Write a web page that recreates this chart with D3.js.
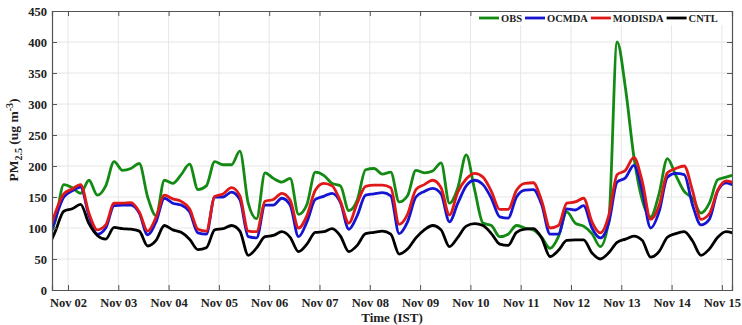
<!DOCTYPE html>
<html>
<head>
<meta charset="utf-8">
<script src="https://cdn.jsdelivr.net/npm/d3@7"></script>
<style>
body { margin: 0; background: #fff; }
svg text { font-family: "Liberation Serif", "Times New Roman", serif; font-weight: bold; fill: #222; }
</style>
</head>
<body>
<svg width="742" height="325"></svg>
<script>
// 4-hourly PM2.5 values (ug m-3), starting Nov 01 14:00 IST
const obs = [
  80, 112, 170, 165, 156, 177, 153, 168, 207, 193, 196, 204,
  150, 120, 177, 172, 186, 203, 162, 168, 207, 202, 202, 224,
  140, 115, 189, 180, 174, 180, 122, 138, 190, 185, 172, 168,
  128, 145, 194, 196, 187, 190, 142, 152, 193, 189, 192, 205,
  140, 165, 218, 162, 108, 104, 86, 90, 104, 100, 97, 85,
  67, 86, 126, 108, 103, 91, 70, 112, 400, 325, 215, 145,
  118, 155, 212, 185, 159, 148, 124, 140, 178, 182, 186
];
const ocmda = [
  68, 115, 150, 160, 166, 120, 90, 100, 136, 137, 137, 124,
  89, 110, 148, 140, 137, 126, 92, 90, 150, 150, 158, 146,
  86, 84, 137, 137, 148, 137, 86, 110, 146, 151, 156, 141,
  98, 120, 153, 155, 157, 152, 91, 110, 150, 159, 164, 155,
  110, 140, 168, 177, 170, 148, 118, 116, 150, 161, 162, 138,
  90, 90, 131, 129, 136, 100, 84, 108, 174, 181, 201, 160,
  100, 126, 182, 188, 186, 137, 105, 114, 160, 173, 168
];
const modisda = [
  80, 125, 155, 163, 170, 124, 97, 105, 140, 140, 141, 126,
  95, 117, 153, 147, 143, 131, 98, 95, 151, 155, 165, 152,
  95, 94, 143, 146, 156, 145, 100, 120, 161, 172, 168, 143,
  108, 140, 167, 169, 169, 165, 106, 122, 162, 170, 177, 165,
  121, 158, 179, 188, 182, 159, 130, 130, 161, 172, 173, 144,
  100, 104, 140, 142, 148, 110, 92, 120, 186, 193, 214, 175,
  114, 136, 189, 196, 200, 160, 114, 123, 161, 176, 172
];
const cntl = [
  65, 95, 127, 131, 138, 107, 88, 82, 101, 99, 98, 95,
  71, 80, 104, 97, 93, 82, 65, 68, 97, 99, 104, 95,
  56, 68, 86, 88, 94, 85, 62, 74, 93, 94, 99, 87,
  62, 72, 91, 93, 95, 90, 58, 66, 84, 97, 104, 97,
  70, 85, 103, 107, 104, 91, 74, 72, 93, 98, 99, 84,
  54, 64, 80, 81, 81, 60, 50, 60, 77, 82, 87, 80,
  53, 62, 85, 91, 94, 79, 56, 66, 85, 94, 91
];
const seriesNames = ["OBS", "OCMDA", "MODISDA", "CNTL"];
const seriesColors = ["#138a13", "#1414d2", "#e01818", "#000000"];
const yTicks = [0, 50, 100, 150, 200, 250, 300, 350, 400, 450];

const startTime = new Date(2017, 10, 1, 14);
const times = d3.range(obs.length).map(i => d3.timeHour.offset(startTime, 4 * i));

const width = 742, height = 325;
const margin = {top: 11, right: 10, bottom: 35, left: 52};
const svg = d3.select("svg");

const x = d3.scaleTime()
    .domain([new Date(2017, 10, 1, 16, 22), new Date(2017, 10, 15, 4, 49)])
    .range([margin.left, width - margin.right]);
const y = d3.scaleLinear()
    .domain([0, 450])
    .range([height - margin.bottom, margin.top]);

const dayTicks = d3.timeDay.range(new Date(2017, 10, 2), new Date(2017, 10, 16));

// grid
svg.append("g").selectAll("line")
    .data(yTicks.slice(1, -1))
    .enter().append("line")
    .attr("x1", margin.left).attr("x2", width - margin.right)
    .attr("y1", d => y(d)).attr("y2", d => y(d))
    .attr("stroke", "#e6e6e6");
svg.append("g").selectAll("line")
    .data(dayTicks)
    .enter().append("line")
    .attr("x1", d => x(d)).attr("x2", d => x(d))
    .attr("y1", margin.top).attr("y2", height - margin.bottom)
    .attr("stroke", "#e6e6e6");

// lines
svg.append("clipPath").attr("id", "clip")
    .append("rect")
    .attr("x", margin.left).attr("y", margin.top)
    .attr("width", width - margin.left - margin.right)
    .attr("height", height - margin.top - margin.bottom);

const line = d3.line()
    .x((d, i) => x(times[i]))
    .y(d => y(d))
    .curve(d3.curveMonotoneX);

const allSeries = [obs, ocmda, modisda, cntl];
svg.append("g").attr("clip-path", "url(#clip)")
    .selectAll("path")
    .data(allSeries)
    .enter().append("path")
    .attr("d", line)
    .attr("fill", "none")
    .attr("stroke", (d, i) => seriesColors[i])
    .attr("stroke-width", 2.8)
    .attr("stroke-linejoin", "round");

// axes (inward ticks on all four sides)
const axisColor = "#555";
const xAxis = svg.append("g")
    .attr("transform", `translate(0,${height - margin.bottom})`)
    .call(d3.axisBottom(x).tickValues(dayTicks).tickFormat(d3.timeFormat("%b %d"))
        .tickSize(-5).tickPadding(8));
const xTop = svg.append("g")
    .attr("transform", `translate(0,${margin.top})`)
    .call(d3.axisTop(x).tickValues(dayTicks).tickFormat("").tickSize(-5));
const yAxis = svg.append("g")
    .attr("transform", `translate(${margin.left},0)`)
    .call(d3.axisLeft(y).tickValues(yTicks).tickSize(-5).tickPadding(5));
const yRight = svg.append("g")
    .attr("transform", `translate(${width - margin.right},0)`)
    .call(d3.axisRight(y).tickValues(yTicks).tickFormat("").tickSize(-5));

[xAxis, xTop, yAxis, yRight].forEach(g => {
    g.select(".domain").attr("stroke", axisColor).attr("stroke-width", 1.2);
    g.selectAll(".tick line").attr("stroke", axisColor);
    g.selectAll("text").attr("font-size", 12.5).attr("fill", "#222")
        .style("font-family", "'Liberation Serif', serif").style("font-weight", "bold");
});

// axis titles
svg.append("text")
    .attr("x", (margin.left + width - margin.right) / 2)
    .attr("y", 322)
    .attr("text-anchor", "middle")
    .attr("font-size", 13)
    .text("Time (IST)");

const yt = svg.append("text")
    .attr("transform", "translate(18,140) rotate(-90)")
    .attr("text-anchor", "middle")
    .attr("font-size", 13.5);
yt.append("tspan").text("PM");
yt.append("tspan").attr("dy", 4).attr("font-size", 10).text("2.5");
yt.append("tspan").attr("dy", -4).text(" (ug m");
yt.append("tspan").attr("dy", -5).attr("font-size", 10).text("-3");
yt.append("tspan").attr("dy", 5).text(")");

// legend
const legend = svg.append("g");
legend.append("rect")
    .attr("x", 474).attr("y", 12).attr("width", 250).attr("height", 13)
    .attr("fill", "#fff");
let lx = 479;
const ly = 18;
seriesNames.forEach((name, i) => {
    legend.append("line")
        .attr("x1", lx).attr("x2", lx + 20)
        .attr("y1", ly).attr("y2", ly)
        .attr("stroke", seriesColors[i]).attr("stroke-width", 2.8);
    const t = legend.append("text")
        .attr("x", lx + 22).attr("y", ly).attr("dy", "0.35em")
        .attr("font-size", 10.5)
        .text(name);
    lx += 22 + t.node().getComputedTextLength() + 3;
});
</script>
</body>
</html>
